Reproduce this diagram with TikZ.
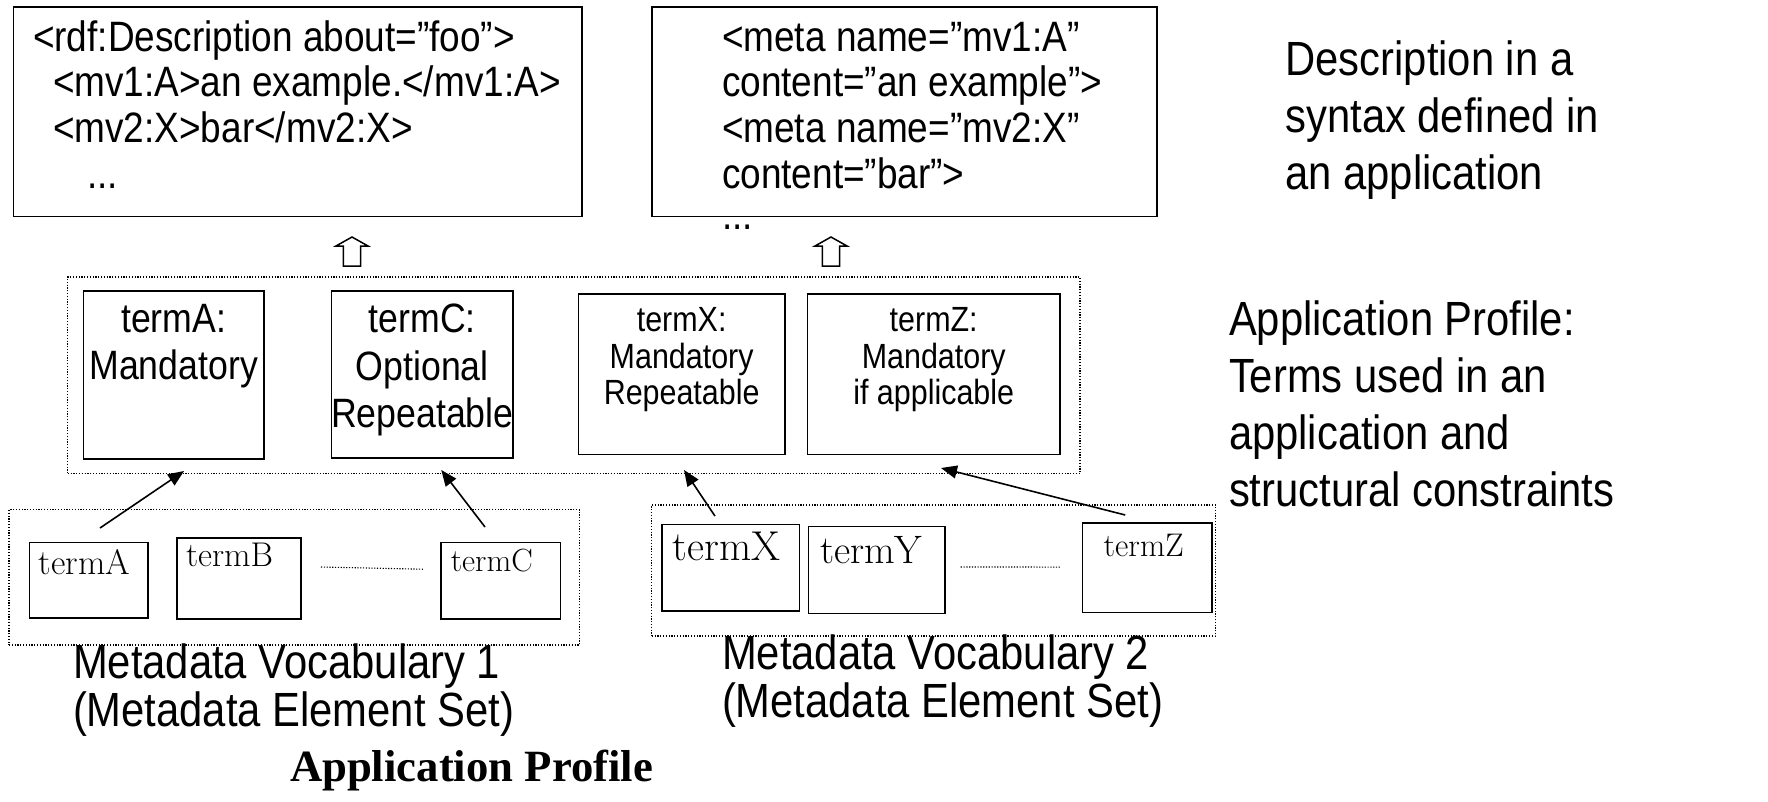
\documentclass[tikz,border=0pt]{standalone}
\usepackage{fontspec}
\setmainfont{Liberation Sans}[FakeStretch=0.87]
\newfontfamily\lmfont{Latin Modern Roman}
\newfontfamily\serifbold{Liberation Serif}
\usetikzlibrary{arrows.meta, positioning, calc}

\newcommand\codefont{\fontsize{42.5}{45.7}\selectfont}
\newcommand\notefont{\fontsize{48}{57}\selectfont}
\newcommand\vocabfont{\fontsize{48}{48}\selectfont}
\newcommand\bigterm{\fontsize{41}{47.4}\selectfont}
\newcommand\smallterm{\fontsize{35}{36.6}\selectfont}

\begin{document}
\begin{tikzpicture}[
x=1pt,y=-1pt,
doc/.style={
    rectangle,draw,line width=1.6pt,inner sep=0pt,outer sep=0pt
},
group/.style={
    rectangle,draw,dash pattern=on 1.2pt off 1.6pt,line width=1.1pt,inner sep=0pt,outer sep=0pt
},
term/.style={
    rectangle,draw,line width=1.6pt,inner sep=0pt,outer sep=0pt
},
txt/.style={inner sep=0pt,outer sep=0pt,align=left},
ctxt/.style={inner sep=0pt,outer sep=0pt,align=center},
link/.style={-{Triangle[length=16pt,width=13pt]},line width=1.6pt},
lift/.style={draw,line width=1.5pt,line join=miter}
]
    \useasboundingbox (0,0) rectangle (1768,801);

    % syntax layer (base = last line)
    \node(rdf)[doc,minimum width=568.5,minimum height=209.7] at (297.75,111.65){};
    \node(rdfText)[txt,anchor=base west,font=\codefont] at (33,188.1){<rdf:Description about=”foo”>\\
        \hspace{20pt}<mv1:A>an example.</mv1:A>\\
        \hspace{20pt}<mv2:X>bar</mv2:X>\\
        \hspace{54pt}...};
    \node(html)[doc,minimum width=505,minimum height=209.7] at (904.5,111.65){};
    \node(htmlText)[txt,anchor=base west,font=\codefont] at (722,188.1){<meta name=”mv1:A”\\
        content=”an example”>\\
        <meta name=”mv2:X”\\
        content=”bar”>};
    \node(htmlDots)[txt,anchor=base west,font=\codefont] at (722,229){...};
    \node(syntaxNote)[txt,anchor=base west,font=\notefont] at (1285.5,189.5){Description in a\\syntax defined in\\an application};

    % hollow arrows
    \coordinate(upL) at (352,266);
    \coordinate(upR) at (831,266);
    \foreach \c in {upL,upR}
        \draw[lift] (\c) ++(-8.7,0) -- ++(0,-20) -- ++(-7.3,0) -- ++(16,-9) -- ++(16,9) -- ++(-7.3,0) -- ++(0,20) -- cycle;

    % application profile
    \node(AP)[group,minimum width=1012.3,minimum height=196.6] at (573.85,375.3){};
    \node(pA)[term,minimum width=180.5,minimum height=168] at (173.65,375){};
    \node(pC)[term,minimum width=181.5,minimum height=166.8] at (422.25,374.4){};
    \node(pX)[term,minimum width=206.3,minimum height=160.4] at (681.65,374.2){};
    \node(pZ)[term,minimum width=252.6,minimum height=160.4] at (933.7,374.2){};
    \node(pAText)[ctxt,font=\bigterm,below=13pt of pA.north]{termA:\\Mandatory};
    \node(pCText)[ctxt,font=\bigterm,below=13pt of pC.north]{termC:\\Optional\\Repeatable};
    \node(pXText)[ctxt,font=\smallterm,below=13.5pt of pX.north]{termX:\\Mandatory\\Repeatable};
    \node(pZText)[ctxt,font=\smallterm,below=13.5pt of pZ.north]{termZ:\\Mandatory\\if applicable};
    \node(apNote)[txt,anchor=base west,font=\notefont] at (1229,506){Application Profile:\\Terms used in an\\application and\\structural constraints};

    % vocabularies
    \node(V1)[group,minimum width=570.6,minimum height=135.3] at (294.3,577.35){};
    \node(vA)[term,minimum width=118.4,minimum height=75.6] at (88.5,580.2){};
    \node(vB)[term,minimum width=124,minimum height=81] at (239,578.5){};
    \node(vC)[term,minimum width=119.4,minimum height=76.6] at (500.7,580.7){};
    \node(vAText)[txt,anchor=base west,font=\lmfont\fontsize{35.4}{40}\selectfont] at ([shift={(9.5,31.6)}]vA.north west){termA};
    \node(vBText)[txt,anchor=base west,font=\lmfont\fontsize{34.3}{40}\selectfont] at ([shift={(9,28.8)}]vB.north west){termB};
    \node(vCText)[txt,anchor=base west,font=\lmfont\fontsize{32.1}{40}\selectfont] at ([shift={(9.8,29.1)}]vC.north west){termC};
    \draw[group] ($(vB.east)+(20,-11.5)$) -- ($(vC.west)+(-18,-11.5)$);
    \node(V1Label)[txt,anchor=base west,font=\vocabfont] at (73,726.6){Metadata Vocabulary 1\\(Metadata Element Set)};

    \node(V2)[group,minimum width=563.8,minimum height=131] at (933.6,570.5){};
    \node(vX)[term,minimum width=137.5,minimum height=86.7] at (730.75,567.65){};
    \node(vY)[term,minimum width=136.5,minimum height=86.8] at (876.75,570){};
    \node(vZ)[term,minimum width=129.5,minimum height=89.3] at (1147.25,567.65){};
    \node(vXText)[txt,anchor=base west,font=\lmfont\fontsize{41.7}{45}\selectfont] at ([shift={(10.9,36.5)}]vX.north west){termX};
    \node(vYText)[txt,anchor=base west,font=\lmfont\fontsize{39.7}{45}\selectfont] at ([shift={(11.5,37.1)}]vY.north west){termY};
    \node(vZText)[txt,anchor=base west,font=\lmfont\fontsize{32.7}{40}\selectfont] at ([shift={(21.1,33)}]vZ.north west){termZ};
    \draw[group] ($(vY.east)+(15.7,-3)$) -- ($(vZ.west)+(-22.5,-0.6)$);
    \node(V2Label)[txt,anchor=base west,font=\vocabfont] at (722,717){Metadata Vocabulary 2\\(Metadata Element Set)};

    \node(title)[txt,anchor=base west,font=\serifbold\bfseries\fontsize{44.7}{50}\selectfont] at (290,781){Application Profile};

    % usage arrows
    \draw[link] ([shift={(11.5,-14.4)}]vA.north) -- ([shift={(10.4,12)}]pA.south);
    \draw[link] ([shift={(-15.7,-15.4)}]vC.north) -- ([shift={(19,12.2)}]pC.south);
    \draw[link] ([shift={(-15.8,-8.3)}]vX.north) -- ([shift={(2.4,15.6)}]pX.south);
    \draw[link] ([shift={(-22,-8)}]vZ.north) -- ([shift={(7.3,13.6)}]pZ.south);
\end{tikzpicture}
\end{document}
